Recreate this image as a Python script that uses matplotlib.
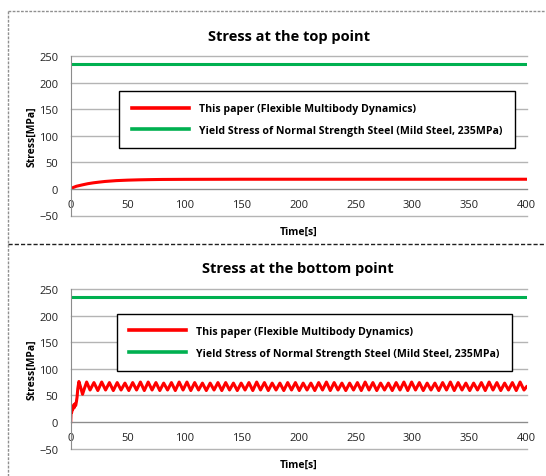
import matplotlib.pyplot as plt
from matplotlib.lines import Line2D

plt.rcParams['font.family'] = ['Open Sans', 'DejaVu Sans']

# top point: stress rises and settles near 18 MPa
top_t = [0, 2, 5, 10, 15, 20, 25, 30, 40, 50, 60, 70, 80, 100, 150, 200, 300, 400]
top_s = [0, 2.5, 5, 7.5, 9.8, 11.5, 12.8, 14.0, 15.6, 16.5, 17.1, 17.5, 17.8, 18.0, 18.2, 18.2, 18.2, 18.2]

# bottom point: start-up transient then oscillation (extrema)
bot_t = [0, 0.4, 0.9, 1.4, 2.0, 2.6, 3.2, 3.8, 4.4, 5.0, 5.6, 6.2, 7.2,
         8.6, 10.4, 12.2, 14.0,
         17.0, 20.4, 23.8, 27.2, 30.6, 34.0, 37.4, 40.8, 44.2, 47.6,
         51.0, 54.4, 57.8, 61.2, 64.6, 68.0, 71.4, 74.8, 78.2, 81.6,
         85.0, 88.4, 91.8, 95.2, 98.6, 102.0, 105.4, 108.8, 112.2, 115.6,
         119.0, 122.4, 125.8, 129.2, 132.6, 136.0, 139.4, 142.8, 146.2, 149.6,
         153.0, 156.4, 159.8, 163.2, 166.6, 170.0, 173.4, 176.8, 180.2, 183.6,
         187.0, 190.4, 193.8, 197.2, 200.6, 204.0, 207.4, 210.8, 214.2, 217.6,
         221.0, 224.4, 227.8, 231.2, 234.6, 238.0, 241.4, 244.8, 248.2, 251.6,
         255.0, 258.4, 261.8, 265.2, 268.6, 272.0, 275.4, 278.8, 282.2, 285.6,
         289.0, 292.4, 295.8, 299.2, 302.6, 306.0, 309.4, 312.8, 316.2, 319.6,
         323.0, 326.4, 329.8, 333.2, 336.6, 340.0, 343.4, 346.8, 350.2, 353.6,
         357.0, 360.4, 363.8, 367.2, 370.6, 374.0, 377.4, 380.8, 384.2, 387.6,
         391.0, 394.4, 397.8, 400.0]
bot_s = [0, 22, 18, 28, 24, 32, 27, 34, 31, 38, 47, 62, 76,
         66, 52, 64, 75,
         60, 74, 59, 75, 60, 74, 59, 74, 60, 73,
         59, 74, 60, 75, 59, 75, 60, 74, 59, 73,
         60, 74, 59, 75, 60, 75, 59, 74, 60, 73,
         59, 73, 60, 74, 59, 74, 60, 73, 59, 73,
         60, 74, 59, 75, 60, 74, 59, 73, 60, 73,
         59, 74, 60, 74, 59, 73, 60, 73, 59, 74,
         60, 75, 59, 74, 60, 73, 59, 73, 60, 74,
         59, 75, 60, 74, 59, 73, 60, 73, 59, 74,
         60, 75, 59, 75, 60, 74, 59, 73, 60, 73,
         59, 74, 60, 75, 59, 74, 60, 73, 59, 73,
         60, 74, 59, 75, 60, 74, 59, 73, 60, 74,
         59, 75, 60, 66]

yield_stress = 235
x_ticks = [0, 50, 100, 150, 200, 250, 300, 350, 400]
y_ticks = [-50, 0, 50, 100, 150, 200, 250]
label_red = "This paper (Flexible Multibody Dynamics)"
label_green = "Yield Stress of Normal Strength Steel (Mild Steel, 235MPa)"

W, H = 546, 477
fig = plt.figure(figsize=(W / 100, H / 100), dpi=100)

def fx(px):
    return px / W

def fy(py):
    return 1 - py / H

def panel(ax, t, s, title, title_x, title_y, leg_x, leg_y):
    ax.set_xlim(0, 400)
    ax.set_ylim(-50, 250)
    ax.set_xticks(x_ticks)
    ax.set_yticks(y_ticks)
    ax.grid(axis='y', color='#b4b4b4', lw=1.0)
    for gl in ax.get_ygridlines():
        gl.set_clip_on(False)
    ax.set_axisbelow(True)
    for sp in ['top', 'right']:
        ax.spines[sp].set_visible(False)
    ax.spines['left'].set_color('#8c8c8c')
    ax.spines['bottom'].set_color('#8c8c8c')
    ax.spines['bottom'].set_position(('data', 0))
    ax.tick_params(length=0, labelsize=8, colors='#222222')
    ax.tick_params(axis='x', pad=7)
    ax.tick_params(axis='y', pad=9)
    ax.plot(t, s, color='#ff0000', lw=2.2, solid_joinstyle='round')
    ax.axhline(yield_stress, color='#00b050', lw=2.2)
    ax.text(0.5, -0.1, "Time[s]", transform=ax.transAxes, ha='center', va='center',
            fontsize=7.5, fontweight='bold')
    ax.set_ylabel("Stress[MPa]", fontsize=7.5, fontweight='bold', labelpad=1)
    fig.text(fx(title_x), fy(title_y), title, ha='center', va='center',
             fontsize=10.5, fontweight='bold')
    handles = [Line2D([], [], color='#ff0000', lw=2.6),
               Line2D([], [], color='#00b050', lw=2.6)]
    leg = ax.legend(handles, [label_red, label_green], loc='upper left',
                    bbox_to_anchor=(fx(leg_x), fy(leg_y)), bbox_transform=fig.transFigure,
                    prop={'size': 7.6, 'weight': 'bold'}, frameon=True, fancybox=False,
                    edgecolor='black', framealpha=1, borderpad=1.15, handlelength=5.4,
                    handletextpad=1.0, labelspacing=1.0, borderaxespad=0)
    leg.get_frame().set_linewidth(1.0)

ax1 = fig.add_axes([fx(70.7), fy(216.5), fx(526.5 - 70.7), fy(57) - fy(216.5)])
panel(ax1, top_t, top_s, "Stress at the top point", 289, 37, 119.4, 92.3)
ax2 = fig.add_axes([fx(70.7), fy(449.5), fx(526.5 - 70.7), fy(290) - fy(449.5)])
panel(ax2, bot_t, bot_s, "Stress at the bottom point", 298, 269, 116.6, 315)

# dashed panel borders
fig.add_artist(Line2D([fx(8), fx(546)], [fy(12), fy(12)], color='#909090', lw=1.0, ls=(0, (2, 1))))
fig.add_artist(Line2D([fx(8), fx(8)], [fy(12), fy(477)], color='#909090', lw=1.0, ls=(0, (2, 1))))
fig.add_artist(Line2D([fx(8), fx(546)], [fy(245), fy(245)], color='#202020', lw=1.0, ls=(0, (3, 1.5))))

fig.savefig("out.png", dpi=100)
